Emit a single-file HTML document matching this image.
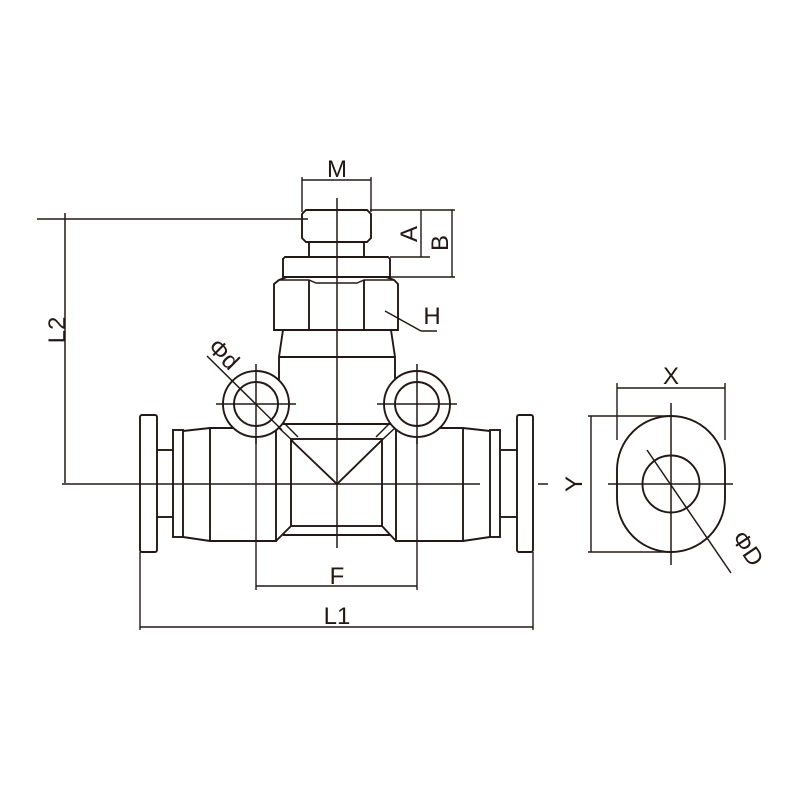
<!DOCTYPE html>
<html><head><meta charset="utf-8"><style>html,body{margin:0;background:#fff}svg{display:block}</style></head><body>
<svg width="800" height="800" viewBox="0 0 800 800" xmlns="http://www.w3.org/2000/svg" fill="none" stroke="#231815" stroke-width="1.9" font-family="Liberation Sans, sans-serif">
<!-- center lines -->
<line x1="337" y1="198" x2="337" y2="548" stroke-width="1.5"/>
<line x1="128" y1="484" x2="480" y2="484" stroke-width="1.5"/>
<line x1="538" y1="484" x2="548" y2="484" stroke-width="1.5"/>
<!-- L2 -->
<line x1="37" y1="219" x2="308" y2="219" stroke-width="1.5"/>
<line x1="62" y1="484" x2="128" y2="484" stroke-width="1.5"/>
<line x1="65" y1="213" x2="65" y2="483" stroke-width="1.5"/>
<text x="0" y="0" transform="translate(65,330) rotate(-90)" font-size="24" fill="#231815" stroke="none" text-anchor="middle">L2</text>
<!-- M dim -->
<line x1="302" y1="177" x2="302" y2="212" stroke-width="1.4"/>
<line x1="371" y1="177" x2="371" y2="212" stroke-width="1.4"/>
<line x1="302" y1="180" x2="371" y2="180" stroke-width="1.4"/>
<text x="337" y="177" font-size="24" fill="#231815" stroke="none" text-anchor="middle">M</text>
<!-- thread stub -->
<path d="M306 210 H367 L371 214 V238 L367 242 H306 L302 238 V214 Z"/>
<line x1="309" y1="242" x2="309" y2="257"/><line x1="364" y1="242" x2="364" y2="257"/>
<path d="M285 257 H388 L390 259 V277 H283 V259 Z"/>
<!-- A/B -->
<line x1="370" y1="210" x2="455" y2="210" stroke-width="1.4"/>
<line x1="390" y1="257" x2="430" y2="257" stroke-width="1.4"/>
<line x1="390" y1="277" x2="455" y2="277" stroke-width="1.4"/>
<line x1="421" y1="210" x2="421" y2="257" stroke-width="1.4"/>
<line x1="452" y1="210" x2="452" y2="277" stroke-width="1.4"/>
<text transform="translate(417,234) rotate(-90)" font-size="24" fill="#231815" stroke="none" text-anchor="middle">A</text>
<text transform="translate(448,243) rotate(-90)" font-size="24" fill="#231815" stroke="none" text-anchor="middle">B</text>
<!-- hex nut -->
<path d="M279 280 L287 277 H386 L394 280 L398 284 V330 H274 V284 Z"/>
<path d="M279 280 L309 280 L316 283 H357 L364 280 H394" stroke-width="1.4"/>
<line x1="309" y1="280" x2="309" y2="330"/><line x1="364" y1="280" x2="364" y2="330"/>
<line x1="385" y1="311" x2="421" y2="331" stroke-width="1.5"/><line x1="421" y1="331" x2="437" y2="331" stroke-width="1.5"/>
<text x="432" y="324" font-size="24" fill="#231815" stroke="none" text-anchor="middle">H</text>
<!-- neck -->
<path d="M283 330 L279 357 V425 M391 330 L395 357 V425"/>
<line x1="279" y1="357" x2="395" y2="357"/>
<!-- body center -->
<line x1="283" y1="424" x2="391" y2="424"/>
<line x1="283" y1="535" x2="391" y2="535"/>
<rect x="291" y="439" width="91" height="87"/>
<path d="M276 541 L291 526 M396 541 L382 526"/>
<path d="M291 440 L337 484 L382 440"/>
<path d="M279 428 L293 441 M284 423 L298 437 M395 428 L381 441 M390 423 L376 437" stroke-width="1.5"/>
<!-- left body -->
<rect x="140" y="415" width="17" height="137" rx="2"/>
<line x1="157" y1="450" x2="173" y2="450"/><line x1="157" y1="517" x2="173" y2="517"/>
<rect x="173" y="430" width="10" height="107"/>
<path d="M183 431 L210 428 H276 V541 H210 L183 537"/>
<line x1="210" y1="428" x2="210" y2="541"/>
<line x1="256" y1="436" x2="256" y2="590" stroke-width="1.4"/>
<!-- right body -->
<rect x="517" y="415" width="16" height="137" rx="2"/>
<line x1="501" y1="450" x2="517" y2="450"/><line x1="501" y1="517" x2="517" y2="517"/>
<rect x="490" y="430" width="10" height="107"/>
<path d="M490 431 L463 428 H396 V541 H463 L490 537"/>
<line x1="463" y1="428" x2="463" y2="541"/>
<line x1="417" y1="436" x2="417" y2="590" stroke-width="1.4"/>
<!-- circles -->
<circle cx="256" cy="404" r="33" fill="#fff"/><circle cx="256" cy="404" r="22"/>
<circle cx="417" cy="404" r="33" fill="#fff"/><circle cx="417" cy="404" r="22"/>
<path d="M216 404 H296 M256 364 V444 M377 404 H457 M417 364 V444" stroke-width="1.5"/>
<line x1="207" y1="356" x2="282" y2="430" stroke-width="1.5"/>
<text transform="translate(218,360) rotate(45)" font-size="24" fill="#231815" stroke="none" text-anchor="middle">Φd</text>
<!-- F & L1 -->
<line x1="256" y1="586" x2="417" y2="586" stroke-width="1.4"/>
<text x="337" y="584" font-size="24" fill="#231815" stroke="none" text-anchor="middle">F</text>
<line x1="140" y1="552" x2="140" y2="630" stroke-width="1.4"/>
<line x1="533" y1="552" x2="533" y2="630" stroke-width="1.4"/>
<line x1="140" y1="627" x2="533" y2="627" stroke-width="1.4"/>
<text x="337" y="624" font-size="24" fill="#231815" stroke="none" text-anchor="middle">L1</text>
<!-- right view -->
<rect x="617" y="416" width="108" height="136" rx="54"/>
<circle cx="671" cy="484" r="28.5"/>
<path d="M608 484 H733 M671 403 V565" stroke-width="1.5"/>
<line x1="647" y1="450" x2="731" y2="573" stroke-width="1.5"/>
<text transform="translate(741,553) rotate(56)" font-size="24" fill="#231815" stroke="none" text-anchor="middle">ΦD</text>
<line x1="617" y1="383" x2="617" y2="440" stroke-width="1.4"/>
<line x1="725" y1="383" x2="725" y2="440" stroke-width="1.4"/>
<line x1="617" y1="388" x2="725" y2="388" stroke-width="1.4"/>
<text x="671" y="384" font-size="24" fill="#231815" stroke="none" text-anchor="middle">X</text>
<line x1="588" y1="416" x2="671" y2="416" stroke-width="1.4"/>
<line x1="588" y1="552" x2="671" y2="552" stroke-width="1.4"/>
<line x1="591" y1="416" x2="591" y2="552" stroke-width="1.4"/>
<text transform="translate(582,484) rotate(-90)" font-size="24" fill="#231815" stroke="none" text-anchor="middle">Y</text>
</svg>
</body></html>
